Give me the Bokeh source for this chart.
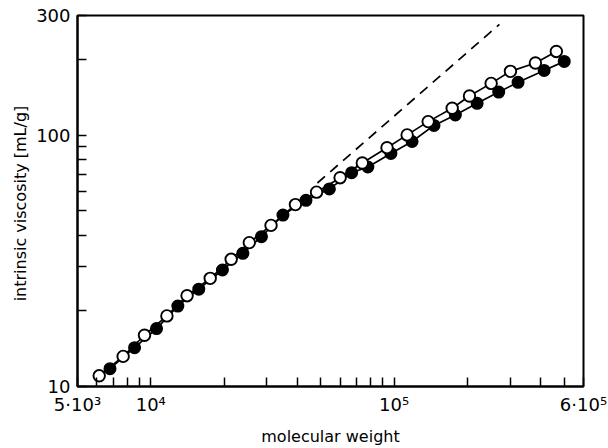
from bokeh.plotting import figure
from bokeh.models import Range1d, FixedTicker
from bokeh.embed import file_html
from bokeh.resources import INLINE

# --- data ---
mw_open = [6140, 7700, 9425, 11650, 14100, 17550, 21400, 25400, 31200, 39300,
           48000, 60000, 74000, 93500, 113100, 138000, 173200, 204000, 250400,
           300600, 380700, 464000]
eta_open = [11.03, 13.18, 16.0, 19.1, 22.99, 26.95, 32.1, 37.4, 43.8, 53.0,
            59.4, 67.8, 77.6, 89.3, 100.4, 113.4, 128.2, 143.4, 161.0,
            179.8, 194.1, 215.8]

mw_filled = [6800, 8580, 10560, 12920, 15750, 19700, 23900, 28500, 34930, 43430,
             54200, 66900, 78000, 97000, 118500, 145800, 178500, 219300, 269000,
             323000, 413400, 500000]
eta_filled = [11.78, 14.27, 17.0, 20.9, 24.4, 29.1, 33.9, 39.5, 48.13, 55.1,
              61.2, 71.0, 74.8, 84.7, 94.5, 109.5, 120.5, 134.1, 148.7,
              162.6, 181.3, 197.0]

dash_mw = [48400, 270800]
dash_eta = [64.6, 276.5]

x_major = [5e3, 1e4, 1e5, 6e5]
x_minor = [6e3, 7e3, 8e3, 9e3, 2e4, 3e4, 4e4, 5e4, 6e4, 7e4, 8e4, 9e4,
           2e5, 3e5, 4e5, 5e5]
x_labels = {5000: "5·10³", 10000: "10⁴", 100000: "10⁵", 600000: "6·10⁵"}

y_major = [10, 100, 300]
y_minor = [20, 30, 40, 50, 60, 70, 80, 90, 200]
y_labels = {10: "10", 100: "100", 300: "300"}

FONT = "DejaVu Sans"

p = figure(width=608, height=448, x_axis_type="log", y_axis_type="log",
           x_range=Range1d(5e3, 6e5), y_range=Range1d(10, 300),
           output_backend="svg", toolbar_location=None,
           min_border_left=77, min_border_right=25, min_border_top=15,
           min_border_bottom=60)

p.background_fill_color = "white"
p.border_fill_color = "white"
p.outline_line_color = "black"
p.outline_line_width = 2
p.xgrid.visible = False
p.ygrid.visible = False

# dashed extension
p.line(dash_mw, dash_eta, line_color="black", line_width=1.7, line_dash="10 7")

# connecting curves
p.line(mw_open, eta_open, line_color="black", line_width=1.7)
p.line(mw_filled, eta_filled, line_color="black", line_width=1.7)

# markers
p.scatter(mw_filled, eta_filled, marker="circle", size=11.5,
          fill_color="black", line_color="black", line_width=1.5)
p.scatter(mw_open, eta_open, marker="circle", size=11.5,
          fill_color="white", line_color="black", line_width=1.9)

xa = p.xaxis[0]
xa.ticker = FixedTicker(ticks=x_major, minor_ticks=x_minor)
xa.major_label_overrides = x_labels
xa.axis_label = "molecular weight"

ya = p.yaxis[0]
ya.ticker = FixedTicker(ticks=y_major, minor_ticks=y_minor)
ya.major_label_overrides = y_labels
ya.axis_label = "intrinsic viscosity  [mL/g]"

for ax in (xa, ya):
    ax.axis_line_color = "black"
    ax.axis_line_width = 2
    ax.major_tick_in = 9
    ax.major_tick_out = 0
    ax.minor_tick_in = 9
    ax.minor_tick_out = 0
    ax.major_tick_line_width = 1.5
    ax.minor_tick_line_width = 1.5
    ax.major_tick_line_color = "black"
    ax.minor_tick_line_color = "black"
    ax.major_label_text_font = FONT
    ax.major_label_text_font_size = "18px"
    ax.major_label_text_color = "black"
    ax.axis_label_text_font = FONT
    ax.axis_label_text_font_size = "16px"
    ax.axis_label_text_font_style = "normal"
    ax.axis_label_text_color = "black"
    ax.major_label_standoff = 7

xa.axis_label_standoff = 9
ya.axis_label_standoff = 3

open("out.html", "w").write(file_html(p, INLINE))
